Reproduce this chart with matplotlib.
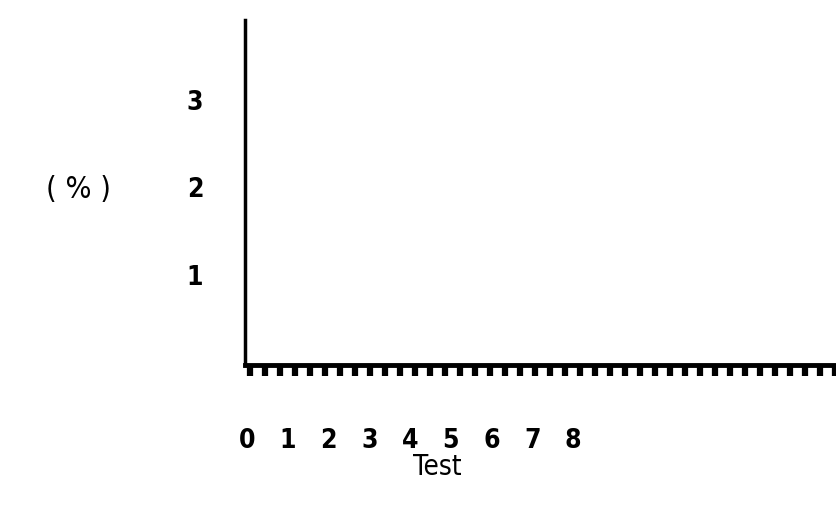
import numpy as np
import matplotlib
matplotlib.use("Agg")
import matplotlib.pyplot as plt

# axis labels
x_labels = ["0", "1", "2", "3", "4", "5", "6", "7", "8"]
x_pos = [0, 1, 2, 3, 4, 5, 6, 7, 8]
y_labels = ["1", "2", "3"]
y_pos = [1, 2, 3]
x_name = "Test"
y_name = "( % )"

plt.rcParams['font.family'] = ['DejaVu Sans Condensed', 'DejaVu Sans']
plt.rcParams['font.stretch'] = 'condensed'

fig = plt.figure(figsize=(8.36, 5.18), dpi=100)
ax = fig.add_axes([0.293, 0.295, 0.707, 0.666])

ax.set_xlim(-0.05, 14.45)
ax.set_ylim(-0.04, 3.92)

for s in ['top', 'right']:
    ax.spines[s].set_visible(False)
ax.spines['left'].set_linewidth(2.5)
ax.spines['bottom'].set_linewidth(3.5)

ax.set_xticks(x_pos)
ax.set_xticklabels(x_labels, fontsize=19, fontweight='bold')
ax.set_yticks(y_pos)
ax.set_yticklabels(y_labels, fontsize=19, fontweight='bold')
ax.tick_params(axis='x', which='major', length=0, pad=45)
ax.tick_params(axis='y', which='major', length=0, pad=30)

# dense comb of short ticks under the x axis
ax.set_xticks(np.arange(0.08, 14.45, 0.368), minor=True)
ax.tick_params(axis='x', which='minor', length=8, width=4.5, direction='out')

fig.text(437 / 836, 1 - 467 / 518, x_name, fontsize=20,
         ha='center', va='center')
fig.text(78 / 836, 1 - 190 / 518, y_name, fontsize=22,
         ha='center', va='center')

fig.savefig("out.png", dpi=100)
